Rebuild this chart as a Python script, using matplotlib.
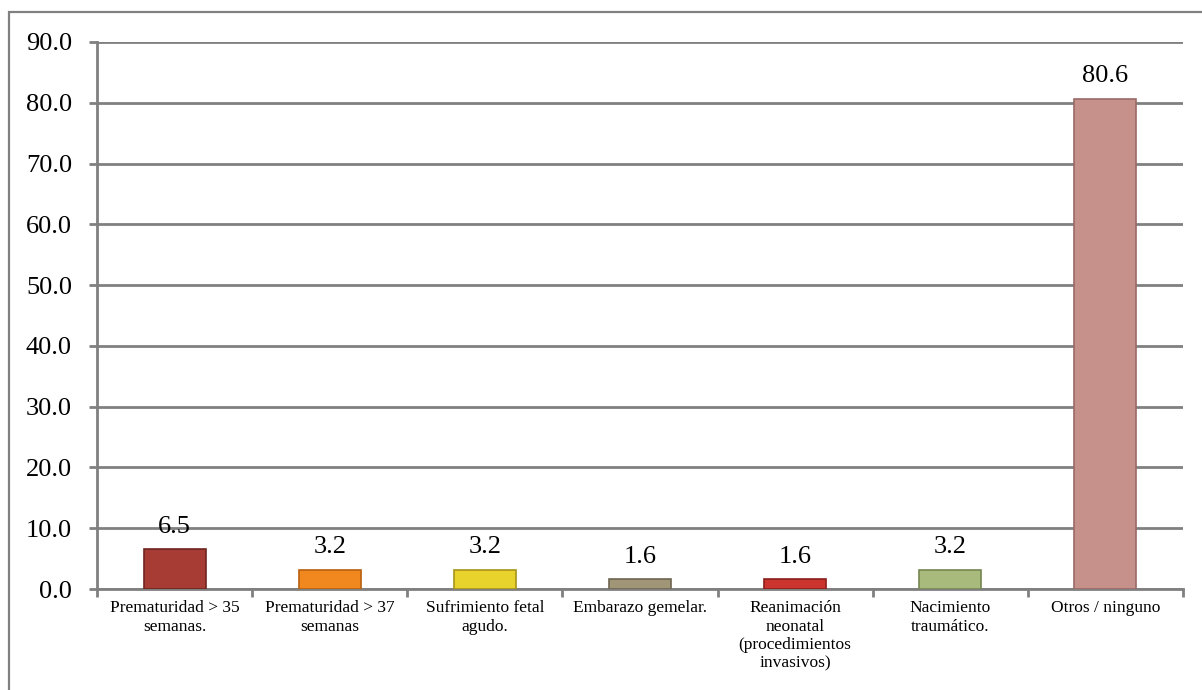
import matplotlib.pyplot as plt
from matplotlib.patches import Rectangle

categories = [
    "Prematuridad > 35\nsemanas.",
    "Prematuridad > 37\nsemanas",
    "Sufrimiento fetal\nagudo.",
    "Embarazo gemelar.",
    "Reanimación\nneonatal\n(procedimientos\ninvasivos)",
    "Nacimiento\ntraumático.",
    "Otros / ninguno",
]
values = [6.5, 3.2, 3.2, 1.6, 1.6, 3.2, 80.6]
bar_colors = ["#a63c33", "#f0871f", "#e8d22c", "#a09577", "#cc3430", "#a9bb7c", "#c6908b"]
edge_colors = ["#6e2520", "#b8600f", "#a89418", "#6e6650", "#8a1f1c", "#75854f", "#9a6a66"]
y_ticks = [0, 10, 20, 30, 40, 50, 60, 70, 80, 90]

plt.rcParams["font.family"] = ["Liberation Serif", "DejaVu Serif"]

fig = plt.figure(figsize=(12.02, 6.9), dpi=100)
ax = fig.add_axes([97 / 1202, 1 - 589 / 690, (1183 - 97) / 1202, (589 - 42) / 690])

# outer chart frame (right and bottom run off the canvas)
fig.patches.append(Rectangle((9 / 1202, -0.01), 1.0, 1 - 12 / 690 + 0.01,
                             transform=fig.transFigure, fill=False,
                             edgecolor="#808080", linewidth=1.6))

x = list(range(len(categories)))
bars = ax.bar(x, values, width=0.4, color=bar_colors, edgecolor=edge_colors,
              linewidth=1.2, zorder=3)

for xi, v in zip(x, values):
    ax.annotate(f"{v:.1f}", (xi, v), xytext=(0, 12), textcoords="offset points",
                ha="center", va="baseline", fontsize=19, zorder=4)

ax.set_xlim(-0.5, len(categories) - 0.5)
ax.set_ylim(0, 90)
ax.set_yticks(y_ticks)
ax.set_yticklabels([f"{t:.1f}" for t in y_ticks], fontsize=19)
ax.yaxis.grid(True, color="#808080", linewidth=2, zorder=0)
ax.tick_params(axis="y", length=6, width=2, color="#808080", pad=12)

# category ticks sit on the boundaries, labels in the middle
ax.set_xticks([i - 0.5 for i in range(len(categories) + 1)])
ax.set_xticklabels([])
ax.set_xticks(x, minor=True)
ax.set_xticklabels(categories, minor=True, fontsize=12.5, linespacing=1.2)
ax.tick_params(axis="x", which="major", length=6, width=2, color="#808080")
ax.tick_params(axis="x", which="minor", length=0, pad=8)

for side in ["top", "right"]:
    ax.spines[side].set_visible(False)
for side in ["left", "bottom"]:
    ax.spines[side].set_color("#808080")
    ax.spines[side].set_linewidth(2)
ax.set_axisbelow(True)

fig.savefig("out.png", dpi=100)
